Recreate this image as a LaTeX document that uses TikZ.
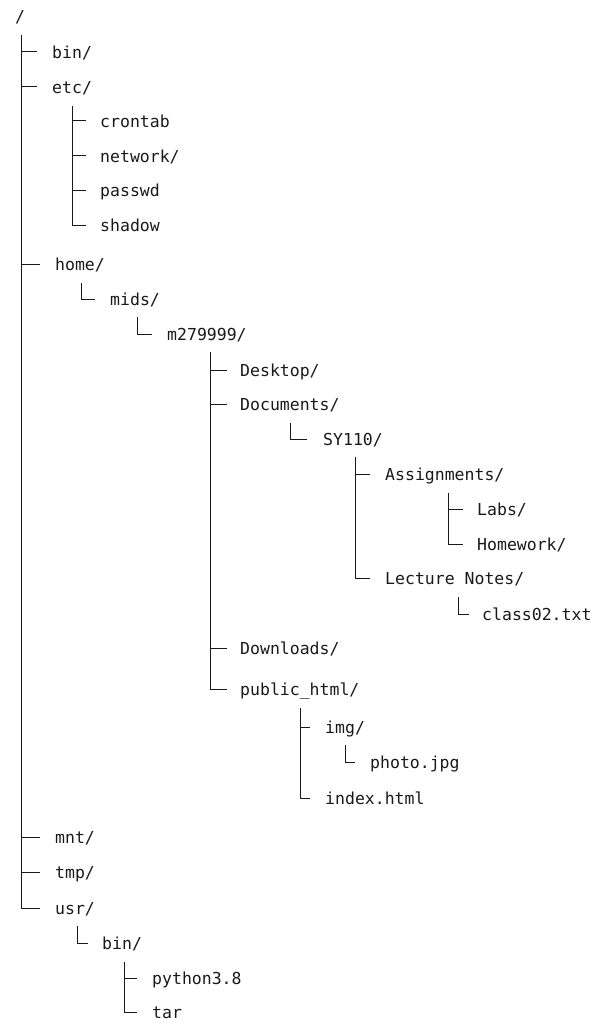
\documentclass[tikz,border=0pt]{standalone}
\usepackage{fontspec}
\setmonofont{DejaVu Sans Mono}
\begin{document}
\begin{tikzpicture}[x=1pt,y=-1pt,
  entry/.style={anchor=west,inner sep=0pt,font=\ttfamily\fontsize{16.5}{20}\selectfont,text height=15pt,text depth=2pt,text=black!90},
  tree/.style={draw=black!90,line width=1pt}]
\useasboundingbox (0,0) rectangle (610,1035);
% nodes
\node[entry] (root) at (15,16) {/};
\node[entry] (bin) at (52,52) {bin/};
\node[entry] (etc) at (52,87) {etc/};
\node[entry] (crontab) at (100,121) {crontab};
\node[entry] (network) at (100,156) {network/};
\node[entry] (passwd) at (100,190) {passwd};
\node[entry] (shadow) at (100,225) {shadow};
\node[entry] (home) at (55,264) {home/};
\node[entry] (mids) at (110,299) {mids/};
\node[entry] (m) at (167,334) {m279999/};
\node[entry] (desktop) at (240,370) {Desktop/};
\node[entry] (documents) at (240,404) {Documents/};
\node[entry] (sy) at (323,439) {SY110/};
\node[entry] (assign) at (385,474) {Assignments/};
\node[entry] (labs) at (477,509) {Labs/};
\node[entry] (hw) at (477,544) {Homework/};
\node[entry] (lecture) at (385,578) {Lecture Notes/};
\node[entry] (class) at (482,614) {class02.txt};
\node[entry] (downloads) at (240,648) {Downloads/};
\node[entry] (public) at (240,689) {public\_html/};
\node[entry] (img) at (325,727) {img/};
\node[entry] (photo) at (370,762) {photo.jpg};
\node[entry] (index) at (325,798) {index.html};
\node[entry] (mnt) at (55,837) {mnt/};
\node[entry] (tmp) at (55,872) {tmp/};
\node[entry] (usr) at (55,908) {usr/};
\node[entry] (ubin) at (102,943) {bin/};
\node[entry] (python) at (152,978) {python3.8};
\node[entry] (tar) at (152,1012) {tar};
% vertical line tops
\coordinate (rootv) at (21,35);
\coordinate (etcv) at (72,106);
\coordinate (homev) at (81,283);
\coordinate (midsv) at (137,317);
\coordinate (mv) at (210,352);
\coordinate (docv) at (290,423);
\coordinate (syv) at (355,457);
\coordinate (assignv) at (448,493);
\coordinate (lecturev) at (458,597);
\coordinate (publicv) at (300,708);
\coordinate (imgv) at (345,745);
\coordinate (usrv) at (77,926);
\coordinate (ubinv) at (124,962);
% connectors
\foreach \c in {bin,etc,home,mnt,tmp,usr} \draw[tree] (rootv) |- ([xshift=-15pt]\c.west);
\foreach \c in {crontab,network,passwd,shadow} \draw[tree] (etcv) |- ([xshift=-14pt]\c.west);
\draw[tree] (homev) |- ([xshift=-15pt]mids.west);
\draw[tree] (midsv) |- ([xshift=-15pt]m.west);
\foreach \c in {desktop,documents,downloads,public} \draw[tree] (mv) |- ([xshift=-13pt]\c.west);
\draw[tree] (docv) |- ([xshift=-16pt]sy.west);
\foreach \c in {assign,lecture} \draw[tree] (syv) |- ([xshift=-15pt]\c.west);
\foreach \c in {labs,hw} \draw[tree] (assignv) |- ([xshift=-14pt]\c.west);
\draw[tree] (lecturev) |- ([xshift=-13pt]class.west);
\foreach \c in {img,index} \draw[tree] (publicv) |- ([xshift=-15pt]\c.west);
\draw[tree] (imgv) |- ([xshift=-15pt]photo.west);
\draw[tree] (usrv) |- ([xshift=-14pt]ubin.west);
\foreach \c in {python,tar} \draw[tree] (ubinv) |- ([xshift=-15pt]\c.west);
\end{tikzpicture}
\end{document}
